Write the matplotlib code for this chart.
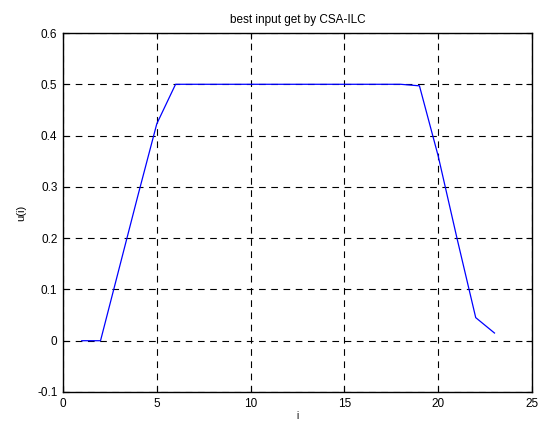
import matplotlib
matplotlib.use("Agg")
import matplotlib.pyplot as plt

i_vals = list(range(1, 24))
u_vals = [0.0, 0.0, 0.142, 0.284, 0.423, 0.5, 0.5, 0.5, 0.5, 0.5, 0.5, 0.5,
          0.5, 0.5, 0.5, 0.5, 0.5, 0.5, 0.497, 0.36, 0.20, 0.045, 0.015]
x_ticks = [0, 5, 10, 15, 20, 25]
y_ticks = [-0.1, 0, 0.1, 0.2, 0.3, 0.4, 0.5, 0.6]
y_tick_labels = ["-0.1", "0", "0.1", "0.2", "0.3", "0.4", "0.5", "0.6"]

plt.rcParams['font.family'] = ['Liberation Sans', 'DejaVu Sans']
fig = plt.figure(figsize=(5.42, 4.21), dpi=100)
ax = fig.add_axes([63/542, 1-392/421, (532-63)/542, (392-33)/421])
ax.plot(i_vals, u_vals, color='#0000ff', linewidth=0.9)
ax.set_xlim(0, 25)
ax.set_ylim(-0.1, 0.6)
ax.set_xticks(x_ticks)
ax.set_xticklabels([str(t) for t in x_ticks])
ax.set_yticks(y_ticks)
ax.set_yticklabels(y_tick_labels)
ax.grid(True, color='black', linestyle=(0, (6, 5)), linewidth=0.8)
ax.tick_params(direction='in', top=True, right=True, labelsize=8.5, length=4, width=0.8, pad=4)
for s in ax.spines.values():
    s.set_linewidth(1.0)
ax.set_title("best input get by CSA-ILC", fontsize=8.5, pad=7)
ax.set_ylabel("u(i)", fontsize=8, labelpad=8)
ax.set_xlabel("i", fontsize=7, labelpad=1)
fig.savefig("out.png", dpi=100)
